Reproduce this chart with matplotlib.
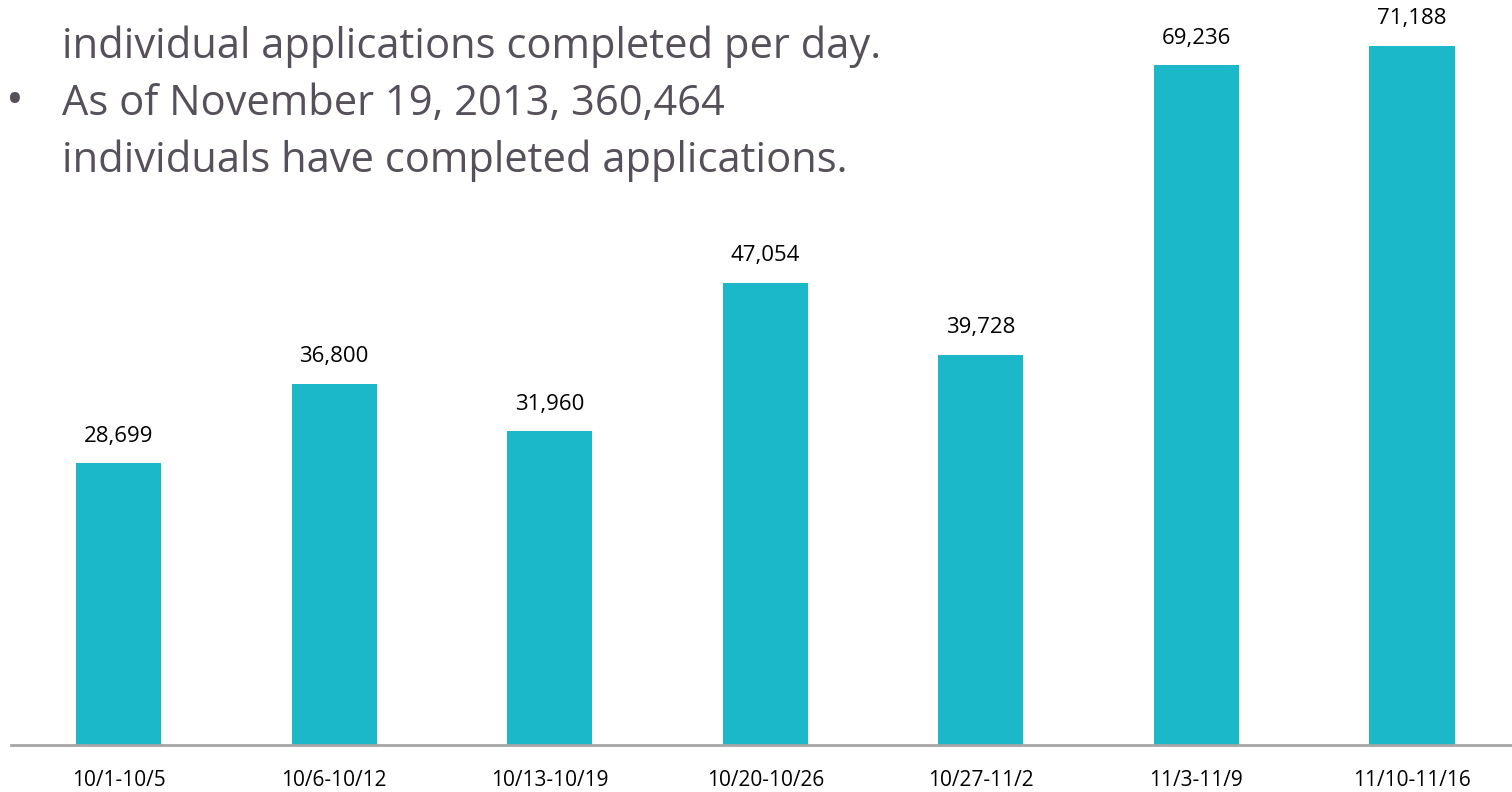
import matplotlib
matplotlib.use("Agg")
import matplotlib.pyplot as plt

weeks = ["10/1-10/5", "10/6-10/12", "10/13-10/19", "10/20-10/26",
         "10/27-11/2", "11/3-11/9", "11/10-11/16"]
applications = [28699, 36800, 31960, 47054, 39728, 69236, 71188]
bullet_lines = ["individual applications completed per day.",
                "As of November 19, 2013, 360,464",
                "individuals have completed applications."]

W, H = 1512, 792
fig = plt.figure(figsize=(W / 100, H / 100), dpi=100)

# axes placed in pixel terms: baseline at y=745, categories 215.6 px wide
left, right, base = 10.7, 1519.8, 745
ax = fig.add_axes([left / W, (H - base) / H, (right - left) / W, base / H])
ax.bar(range(len(weeks)), applications, width=0.395, color="#1BB8C9")
ax.set_xlim(-0.5, len(weeks) - 0.5)
ax.set_ylim(0, base / 0.009819)
for i, v in enumerate(applications):
    ax.annotate(f"{v:,}", (i, v), xytext=(0, 12), textcoords="offset points",
                ha="center", va="bottom", fontsize=16, family="Open Sans")

for s in ["top", "right", "left"]:
    ax.spines[s].set_visible(False)
ax.spines["bottom"].set_color("#A6A6A6")
ax.spines["bottom"].set_linewidth(2)
ax.set_yticks([])
ax.set_xticks(range(len(weeks)))
ax.set_xticklabels(weeks, fontsize=15, family="Open Sans")
ax.tick_params(axis="x", length=0, pad=18)

txt_color = "#55505A"
fig.text(62 / W, 1 - 58 / H, bullet_lines[0], fontsize=30, color=txt_color,
         family="Open Sans", va="baseline")
fig.text(6 / W, 1 - 115 / H, "\u2022", fontsize=34, color=txt_color,
         family="Open Sans", va="baseline")
fig.text(62 / W, 1 - 115 / H, bullet_lines[1], fontsize=30, color=txt_color,
         family="Open Sans", va="baseline")
fig.text(62 / W, 1 - 172 / H, bullet_lines[2], fontsize=30, color=txt_color,
         family="Open Sans", va="baseline")

fig.savefig("out.png", dpi=100)
